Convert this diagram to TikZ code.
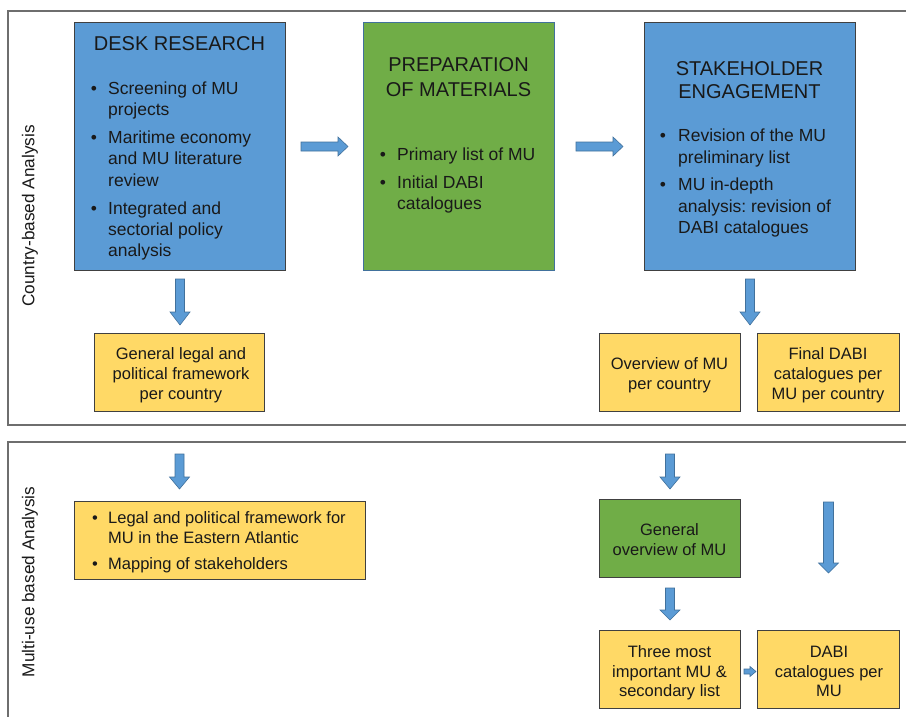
\documentclass[tikz,border=0pt]{standalone}
\usepackage{fontspec}
\setmainfont{Liberation Sans}
\usetikzlibrary{calc}
\frenchspacing
\definecolor{bl}{HTML}{5B9BD5}
\definecolor{gr}{HTML}{70AD47}
\definecolor{ye}{HTML}{FFD966}
\definecolor{bd}{HTML}{404040}
\definecolor{abd}{HTML}{41719C}
\definecolor{frm}{HTML}{6E6E6E}
\tikzset{
  box/.style={draw=bd, line width=1pt, inner sep=0pt, anchor=north west},
  bluebox/.style={box, fill=bl},
  greenbox/.style={box, fill=gr},
  yellowbox/.style={box, fill=ye},
  panel/.style={draw=frm, line width=1.5pt},
  blockarrow/.style={fill=bl, draw=abd, line width=0.6pt, line join=miter},
  big/.style={font=\fontsize{20}{24}\selectfont, inner sep=0pt, anchor=base, text=black!90},
  body/.style={font=\fontsize{17.5}{21}\selectfont, inner sep=0pt, anchor=base west, text=black!90},
  bul/.style={font=\fontsize{17.5}{21}\selectfont, inner sep=0pt, anchor=base, text=black!90},
  sm/.style={font=\fontsize{16.5}{20}\selectfont, inner sep=0pt, anchor=base, text=black!90},
  smw/.style={font=\fontsize{16.5}{20}\selectfont, inner sep=0pt, anchor=base west, text=black!90},
  side/.style={font=\fontsize{17.2}{20}\selectfont, inner sep=0pt, rotate=90, anchor=center, text=black!90}
}
% down block arrow: x from #1, top y from #1, tip y from #2
\newcommand\darrow[5]{%
  \draw[blockarrow] let \p1=(#1), \p2=(#2) in
    (\x1-#3,\y1) -- (\x1+#3,\y1) -- (\x1+#3,\y2+#5) -- (\x1+#4,\y2+#5)
    -- (\x1,\y2) -- (\x1-#4,\y2+#5) -- (\x1-#3,\y2+#5) -- cycle;}
% right block arrow: y from #1, start x from #1, tip x from #2
\newcommand\rarrow[5]{%
  \draw[blockarrow] let \p1=(#1), \p2=(#2) in
    (\x1,\y1+#3) -- (\x2-#5,\y1+#3) -- (\x2-#5,\y1+#4) -- (\x2,\y1)
    -- (\x2-#5,\y1-#4) -- (\x2-#5,\y1-#3) -- (\x1,\y1-#3) -- cycle;}
\begin{document}
\begin{tikzpicture}[x=1pt,y=-1pt]
\useasboundingbox (0,0) rectangle (906,716);
\fill[white] (0,0) rectangle (906,716);
% panels
\draw[panel] (8,11) rectangle (914,425);
\draw[panel] (8,442) rectangle (914,730);
\node[side] (lab1) at (30,216) {Country-based Analysis};
\node[side] (lab2) at (30,582) {Multi-use based Analysis};
% top boxes
\node[bluebox, minimum width=211pt, minimum height=248pt] (desk) at (74,22) {};
\node[greenbox, draw=abd, minimum width=191pt, minimum height=248pt] (prep) at (363,22) {};
\node[bluebox, minimum width=211pt, minimum height=248pt] (stake) at (644,22) {};
\node[yellowbox, minimum width=170pt, minimum height=78pt] (gen1) at (94,333) {};
\node[yellowbox, minimum width=141pt, minimum height=78pt] (ov) at (599,333) {};
\node[yellowbox, minimum width=142pt, minimum height=78pt] (final) at (757,333) {};
% bottom boxes
\node[yellowbox, minimum width=291pt, minimum height=78pt] (legal) at (74,501) {};
\node[greenbox, minimum width=141pt, minimum height=78pt] (genov) at (599,499) {};
\node[yellowbox, minimum width=141pt, minimum height=78pt] (three) at (599,630) {};
\node[yellowbox, minimum width=142pt, minimum height=78pt] (dabi) at (757,630) {};
% desk research text
\node[big] (dt) at (179.5,50) {DESK RESEARCH};
\node[bul] (db1) at (94,94) {\textbullet};
\node[body] (d1) at (108,94) {Screening of MU};
\node[body] (d2) at (108,115) {projects};
\node[bul] (db2) at (94,143) {\textbullet};
\node[body] (d3) at (108,143) {Maritime economy};
\node[body] (d4) at (108,164) {and MU literature};
\node[body] (d5) at (108,186) {review};
\node[bul] (db3) at (94,214) {\textbullet};
\node[body] (d6) at (108,214) {Integrated and};
\node[body] (d7) at (108,235) {sectorial policy};
\node[body] (d8) at (108,256) {analysis};
% preparation text
\node[big] (pt1) at (458.5,71) {PREPARATION};
\node[big] (pt2) at (458.5,96) {OF MATERIALS};
\node[bul] (pb1) at (383,160) {\textbullet};
\node[body] (p1) at (397,160) {Primary list of MU};
\node[bul] (pb2) at (383,188) {\textbullet};
\node[body] (p2) at (397,188) {Initial DABI};
\node[body] (p3) at (397,209) {catalogues};
% stakeholder text
\node[big] (st1) at (749.5,75) {STAKEHOLDER};
\node[big] (st2) at (749.5,98) {ENGAGEMENT};
\node[bul] (sb1) at (663,141) {\textbullet};
\node[body] (s1) at (678,141) {Revision of the MU};
\node[body] (s2) at (678,163) {preliminary list};
\node[bul] (sb2) at (663,190) {\textbullet};
\node[body] (s3) at (678,190) {MU in-depth};
\node[body] (s4) at (678,212) {analysis: revision of};
\node[body] (s5) at (678,233) {DABI catalogues};
% yellow texts top
\node[sm] (g1) at (181,359) {General legal and};
\node[sm] (g2) at (181,379) {political framework};
\node[sm] (g3) at (181,399) {per country};
\node[sm] (o1) at (669.5,369) {Overview of MU};
\node[sm] (o2) at (669.5,389) {per country};
\node[sm] (f1) at (828,359) {Final DABI};
\node[sm] (f2) at (828,379) {catalogues per};
\node[sm] (f3) at (828,399) {MU per country};
% bottom texts
\node[sm] (lb1) at (95,523) {\textbullet};
\node[smw] (l1) at (108,523) {Legal and political framework for};
\node[smw] (l2) at (108,543) {MU in the Eastern Atlantic};
\node[sm] (lb2) at (95,569) {\textbullet};
\node[smw] (l3) at (108,569) {Mapping of stakeholders};
\node[sm] (go1) at (669.5,535) {General};
\node[sm] (go2) at (669.5,555) {overview of MU};
\node[sm] (t1) at (669.5,657) {Three most};
\node[sm] (t2) at (669.5,677) {important MU \&};
\node[sm] (t3) at (669.5,696) {secondary list};
\node[sm] (da1) at (829,657) {DABI};
\node[sm] (da2) at (829,677) {catalogues per};
\node[sm] (da3) at (829,696) {MU};
% arrows
\rarrow{$(desk.east)+(15,0)$}{$(prep.west)+(-15,0)$}{4.5pt}{9.5pt}{10pt}
\rarrow{$(prep.east)+(21,0)$}{$(stake.west)+(-21,0)$}{4.5pt}{9.5pt}{10pt}
\darrow{$(desk.south)+(0,8)$}{$(gen1.north)+(0,-8)$}{4.5pt}{10pt}{13pt}
\darrow{$(stake.south)+(0,8)$}{$(ov.north)+(0,-8)$}{4.5pt}{10pt}{13pt}
\darrow{$(gen1.south)+(0,42)$}{$(legal.north)+(0,-12)$}{4.5pt}{10pt}{12pt}
\darrow{$(ov.south)+(0,42)$}{$(genov.north)+(0,-10)$}{4.5pt}{10pt}{12pt}
\darrow{$(final.south)+(0,90)$}{$(dabi.north)+(0,-57)$}{5pt}{10pt}{10pt}
\darrow{$(genov.south)+(0,10)$}{$(three.north)+(0,-10)$}{4.5pt}{10pt}{10pt}
\rarrow{$(three.east)+(3,2)$}{$(dabi.west)+(-1,2)$}{2.5pt}{5pt}{6pt}
\end{tikzpicture}
\end{document}
